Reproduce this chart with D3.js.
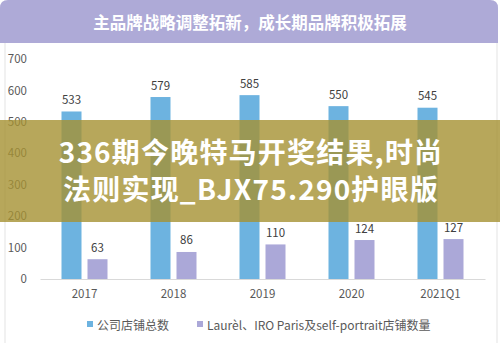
<!DOCTYPE html>
<html><head><meta charset="utf-8">
<script src="https://cdn.jsdelivr.net/npm/d3@7"></script>
<style>html,body{margin:0;padding:0;background:#fff;}svg{display:block;}</style>
</head><body>
<script>
const categories = ["2017","2018","2019","2020","2021Q1"];
const totalStores = [533,579,585,550,545];
const brandStores = [63,86,110,124,127];
const seriesNames = ["公司店铺总数","Laurèl、IRO Paris及self-portrait店铺数量"];
const yTicks = [0,100,200,300,400,500,600,700];
const title = "主品牌战略调整拓新，成长期品牌积极拓展";
const overlayLines = ["336期今晚特马开奖结果,时尚","法则实现_BJX75.290护眼版"];

const W=500,H=343;
const font="'Noto Sans CJK SC','Noto Sans',sans-serif";
const svg=d3.select("body").append("svg").attr("width",W).attr("height",H);

// frame
svg.append("rect").attr("x",5).attr("y",30).attr("width",492).attr("height",H-30+5)
  .attr("fill","#fff").attr("stroke","#e3e3e3");
// title band
svg.append("path").attr("d","M0,43 L0,8 Q0,0 8,0 L490,0 Q498,0 498,8 L498,43 Z").attr("fill","#aeaad7");
svg.append("text").attr("x",250).attr("y",22).attr("text-anchor","middle").attr("dominant-baseline","central")
  .attr("font-family",font).attr("font-weight","bold").attr("font-size",16.5).attr("fill","#fff").text(title);

const x=d3.scaleBand().domain(categories).range([40,485]);
const y=d3.scaleLinear().domain([0,700]).range([279,59]);
const barW=20, gap=6;

const data=categories.map((c,i)=>({c,a:totalStores[i],b:brandStores[i]}));
const colors=["#6db3e0","#aba8d8"];

const g=svg.append("g");
data.forEach(d=>{
  const cx=x(d.c)+x.bandwidth()/2;
  [[d.a,cx-gap/2-barW,colors[0]],[d.b,cx+gap/2,colors[1]]].forEach(([v,x0,col])=>{
    g.append("rect").attr("x",x0).attr("y",y(v)).attr("width",barW).attr("height",y(0)-y(v)).attr("fill",col);
    g.append("text").attr("x",x0+barW/2).attr("y",y(v)-12.5).attr("text-anchor","middle").attr("dominant-baseline","central")
      .attr("font-family",font).attr("font-size",11.5).attr("fill","#404040").text(v);
  });
});

// x axis
const xa=svg.append("g").attr("transform",`translate(0,${y(0)})`).call(d3.axisBottom(x).tickSize(0).tickPadding(11));
xa.select(".domain").attr("stroke","#d9d9d9").attr("stroke-width",1.2);
xa.selectAll("text").attr("font-family",font).attr("font-size",11.5).attr("fill","#595959");

// y axis
const ya=svg.append("g").attr("transform","translate(27,0)").call(d3.axisLeft(y).tickValues(yTicks).tickSize(0).tickPadding(0));
ya.select(".domain").remove();
ya.selectAll("text").attr("font-family",font).attr("font-size",11.5).attr("fill","#595959");

// legend
const leg=[[87,seriesNames[0],colors[0]],[197,seriesNames[1],colors[1]]];
leg.forEach(([lx,t,c])=>{
  svg.append("rect").attr("x",lx).attr("y",321).attr("width",6).attr("height",6).attr("fill",c);
  svg.append("text").attr("x",lx+10).attr("y",324).attr("dominant-baseline","central")
    .attr("font-family",font).attr("font-size",12).attr("fill","#595959").text(t);
});

// overlay band
svg.append("rect").attr("x",0).attr("y",120).attr("width",W).attr("height",102).attr("fill","rgba(165,145,50,0.8)");
overlayLines.forEach((t,i)=>{
  svg.append("text").attr("x",251).attr("y",151+i*37).attr("text-anchor","middle").attr("dominant-baseline","central")
    .attr("font-family",font).attr("font-weight","bold").attr("font-size",28).attr("letter-spacing",1.2)
    .attr("fill","#fff").text(t);
});
</script>
</body></html>
